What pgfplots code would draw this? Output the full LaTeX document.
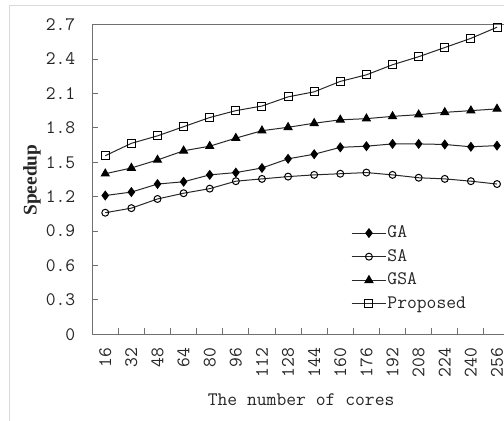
\documentclass[border=0pt]{standalone}
\usepackage{fontspec}
\setmainfont{Liberation Serif}
\usepackage{pgfplots}
\pgfplotsset{compat=1.18}
\definecolor{axgray}{RGB}{112,112,112}
\definecolor{lngray}{RGB}{40,40,40}
\definecolor{bordergray}{RGB}{217,217,217}
\begin{document}
\begin{tikzpicture}
\useasboundingbox (0,0) rectangle (378pt,315.75pt);
\clip (0,0) rectangle (378pt,315.75pt);
\fill[white] (0,0) rectangle (378pt,315.75pt);
\draw[bordergray, line width=0.75pt] (6.75pt,-5pt) -- (6.75pt,311.25pt) -- (390pt,311.25pt);
\begin{axis}[
  at={(69.15pt,65pt)}, anchor=south west,
  scale only axis, width=313.4pt, height=232.3pt,
  xmin=-0.5, xmax=15.5, ymin=0, ymax=2.7,
  axis line style={axgray, line width=0.75pt},
  separate axis lines,
  every outer x axis line/.append style={axgray},
  every outer y axis line/.append style={axgray},
  axis x line*=bottom, axis y line*=left,
  xtick={0,...,15},
  xticklabels={16,32,48,64,80,96,112,128,144,160,176,192,208,224,240,256},
  minor xtick={0.5,1.5,...,14.5},
  major x tick style={draw=none},
  minor tick length=4.5pt,
  major tick length=4.5pt,
  tick align=inside,
  tick style={axgray, line width=0.75pt},
  ytick={0,0.3,0.6,0.9,1.2,1.5,1.8,2.1,2.4,2.7},
  yticklabels={0,0.3,0.6,0.9,1.2,1.5,1.8,2.1,2.4,2.7},
  ytick pos=left, xtick pos=bottom,
  tick label style={font=\fontsize{14.3}{16}\ttfamily, text=black!85},
  yticklabel style={anchor=east, inner sep=0pt},
  yticklabel shift=12.5pt,
  xticklabel style={rotate=90, anchor=east, inner sep=0pt},
  xticklabel shift=10pt,
  xlabel={The number of cores},
  xlabel style={font=\fontsize{14.3}{16}\ttfamily, text=black!85, at={(axis description cs:0.5,-0.212)}, anchor=center},
  ylabel={Speedup},
  ylabel style={font=\fontsize{14.5}{16}\selectfont\bfseries, text=black!85, at={(axis description cs:-0.144,0.498)}, anchor=center, rotate=0},
  legend style={draw=none, fill=none, at={(axis description cs:0.619,0.359)}, anchor=north west,
    font=\fontsize{14.3}{16}\ttfamily, text=black!85, row sep=3.2pt, inner sep=0pt,
    nodes={inner sep=0.5pt, text height=10pt, text depth=3.5pt}},
  legend cell align=left,
  legend image code/.code={\draw[mark repeat=2,mark phase=2,#1] plot coordinates {(0pt,0pt) (13pt,0pt) (26pt,0pt)};},
  every axis plot/.append style={lngray, line width=0.75pt},
]
\draw[axgray, line width=0.75pt] (rel axis cs:0,1) -- (rel axis cs:1,1);
\addplot[mark=diamond*, mark size=3.2pt, mark options={fill=black, draw=black}] coordinates {
(0,1.21) (1,1.24) (2,1.31) (3,1.33) (4,1.39) (5,1.41) (6,1.45) (7,1.53)
(8,1.57) (9,1.63) (10,1.64) (11,1.66) (12,1.66) (13,1.655) (14,1.635) (15,1.645)};
\addlegendentry{GA}
\addplot[mark=o, mark size=2.6pt, mark options={fill=white, draw=black}] coordinates {
(0,1.06) (1,1.10) (2,1.18) (3,1.23) (4,1.27) (5,1.335) (6,1.355) (7,1.375)
(8,1.39) (9,1.40) (10,1.41) (11,1.39) (12,1.365) (13,1.355) (14,1.335) (15,1.31)};
\addlegendentry{SA}
\addplot[mark=triangle*, mark size=3.4pt, mark options={fill=black, draw=black}] coordinates {
(0,1.40) (1,1.45) (2,1.52) (3,1.60) (4,1.64) (5,1.71) (6,1.775) (7,1.805)
(8,1.84) (9,1.87) (10,1.88) (11,1.90) (12,1.915) (13,1.935) (14,1.95) (15,1.965)};
\addlegendentry{GSA}
\addplot[mark=square, mark size=3pt, mark options={fill=white, draw=black}] coordinates {
(0,1.557) (1,1.665) (2,1.73) (3,1.81) (4,1.89) (5,1.95) (6,1.99) (7,2.07)
(8,2.114) (9,2.205) (10,2.262) (11,2.35) (12,2.42) (13,2.50) (14,2.58) (15,2.677)};
\addlegendentry{Proposed}
\end{axis}
\end{tikzpicture}
\end{document}
